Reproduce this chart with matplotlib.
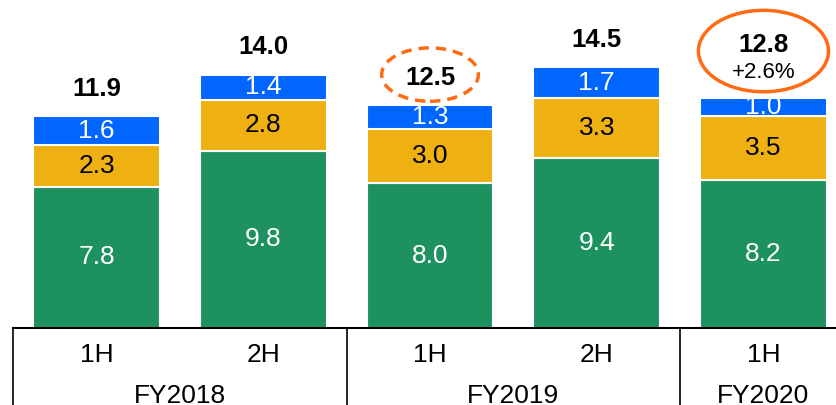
import matplotlib.pyplot as plt
from matplotlib.patches import Ellipse

plt.rcParams['font.family'] = ['Liberation Sans', 'DejaVu Sans']

halves = ['1H', '2H', '1H', '2H', '1H']
years = ['FY2018', 'FY2019', 'FY2020']
year_spans = [(0, 1), (2, 3), (4, 4)]
green = [7.8, 9.8, 8.0, 9.4, 8.2]
yellow = [2.3, 2.8, 3.0, 3.3, 3.5]
blue = [1.6, 1.4, 1.3, 1.7, 1.0]
totals = ['11.9', '14.0', '12.5', '14.5', '12.8']
growth = '+2.6%'

c_green = '#1E9160'
c_yellow = '#EEB111'
c_blue = '#0066FF'
c_orange = '#FF6A13'

fig = plt.figure(figsize=(8.37, 4.05), dpi=100)
ax = fig.add_axes([0, 0, 1, 1])
ax.set_xlim(-0.579, 4.441)
ax.set_ylim(-4.25, 18.12)
ax.axis('off')

x = list(range(len(halves)))
w = 0.76
bottom2 = [g + y for g, y in zip(green, yellow)]
tops = [b + bl for b, bl in zip(bottom2, blue)]

ax.bar(x, green, w, color=c_green, edgecolor='white', linewidth=1.5)
ax.bar(x, yellow, w, bottom=green, color=c_yellow, edgecolor='white', linewidth=1.5)
ax.bar(x, blue, w, bottom=bottom2, color=c_blue, edgecolor='white', linewidth=1.5)

fs = 19
for i in x:
    ax.text(i, green[i] / 2, f'{green[i]:.1f}', ha='center', va='center',
            color='white', fontsize=fs)
    ax.text(i, green[i] + yellow[i] / 2, f'{yellow[i]:.1f}', ha='center',
            va='center', color='black', fontsize=fs)
    ax.text(i, bottom2[i] + blue[i] / 2, f'{blue[i]:.1f}', ha='center',
            va='center', color='white', fontsize=fs)

for i in x[:-1]:
    ax.text(i, tops[i] + 1.5, totals[i], ha='center', va='center',
            fontsize=18.5, fontweight='bold')

# last bar: total plus growth, circled
last = x[-1]
ax.text(last, tops[last] + 2.95, totals[last], ha='center', va='center',
        fontsize=18.5, fontweight='bold')
ax.text(last, tops[last] + 1.4, growth, ha='center', va='center', fontsize=16)
ax.add_patch(Ellipse((last, tops[last] + 2.6), 0.78, 4.5, fill=False,
                     edgecolor=c_orange, linewidth=2.5))

# dashed circle around FY2019 1H total
ax.add_patch(Ellipse((2, tops[2] + 1.7), 0.58, 2.95, fill=False,
                     edgecolor=c_orange, linewidth=2.5, linestyle=(0, (3, 2))))

# category table below the bars
ax.plot([-0.5, 4.441], [0, 0], color='black', lw=1.5, clip_on=False)
for xb in [-0.5, 1.5, 3.5]:
    ax.plot([xb, xb], [0, -4.25], color='black', lw=1.2)
for i, h in enumerate(halves):
    ax.text(i, -1.5, h, ha='center', va='center', fontsize=fs)
for name, (a, b) in zip(years, year_spans):
    ax.text((a + b) / 2, -3.75, name, ha='center', va='center', fontsize=fs)

fig.savefig('out.png', dpi=100)
